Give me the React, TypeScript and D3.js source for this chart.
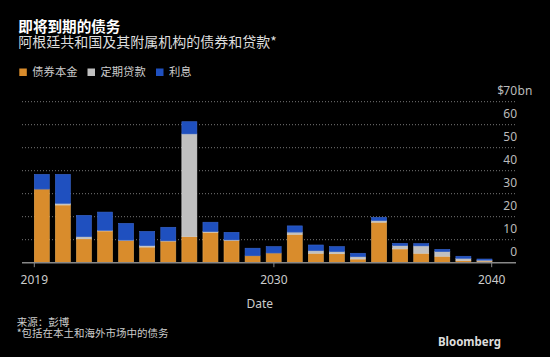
import React from "react";
import * as d3 from "d3";

const years = d3.range(2019, 2041);
const principal = [32.0, 25.1, 10.4, 13.8, 9.7, 6.8, 9.4, 11.3, 13.2, 9.7, 3.0, 4.2, 12.3, 4.1, 3.9, 1.6, 17.6, 6.0, 4.1, 2.8, 0.9, 0.7];
const loans = [0, 0.7, 0.9, 0.2, 0.1, 0.6, 0.1, 44.7, 0.3, 0.2, 0, 0, 1.0, 1.1, 0.9, 1.0, 0.7, 1.4, 3.2, 2.0, 1.0, 0.4];
const interest = [6.4, 12.6, 9.3, 8.0, 7.3, 6.2, 5.9, 5.3, 4.1, 3.3, 3.3, 2.8, 2.7, 2.5, 2.2, 1.5, 1.4, 1.0, 1.0, 1.0, 0.9, 0.5];
const seriesNames = ["债券本金", "定期贷款", "利息"];
const yTicks = [0, 10, 20, 30, 40, 50, 60, 70];
const xTicks = [2019, 2030, 2040];

const colors = ["#D98C2C", "#C0C0C0", "#1F50BF"];
const strokes = ["#E8A850", "#D8D8D8", "#3A66CC"];

const cjk = "'Noto Sans CJK SC', 'Noto Sans', sans-serif";
const latin = "'Noto Sans', 'Liberation Sans', sans-serif";

export default function App() {
  const W = 550, H = 357;
  const y = d3.scaleLinear().domain([0, 70]).range([262.7, 101.7]);
  const step = 21.08;
  const x0 = 34.3;
  const xb = d3.scaleBand<number>().domain(years).range([x0, x0 + years.length * step - 6.08]).paddingInner(0.288).paddingOuter(0);
  const xt = d3.scaleLinear().domain([2019, 2040]).range([34.3, 491.7]);

  const rows = years.map((yr, i) => ({ year: yr, p: principal[i], l: loans[i], n: interest[i] }));
  const stack = d3.stack<any>().keys(["p", "l", "n"])(rows);

  const gridX0 = 22, gridX1 = 516;
  const labelX = 517;

  return (
    <svg width={W} height={H} style={{ position: "absolute", left: 0, top: 0, background: "#000" }}>
      <rect x={0} y={0} width={W} height={H} fill="#000" />
      <text x={18.3} y={32} fill="#fff" fontFamily={cjk} fontWeight={700} fontSize={14.6}>即将到期的债务</text>
      <text x={18.3} y={47} fill="#ddd" fontFamily={cjk} fontSize={14}>阿根廷共和国及其附属机构的债券和贷款*</text>

      {seriesNames.map((s, i) => {
        const lx = [19.3, 87.5, 156][i];
        return (
          <g key={s}>
            <rect x={lx} y={68.5} width={7.5} height={7.5} fill={colors[i]} />
            <text x={lx + 13} y={76.3} fill="#ccc" fontFamily={cjk} fontSize={11.3}>{s}</text>
          </g>
        );
      })}

      {yTicks.filter(t => t > 0).map(t => (
        <line key={t} x1={gridX0} x2={gridX1} y1={y(t)} y2={y(t)} stroke="#777" strokeWidth={1} strokeDasharray="1,2" />
      ))}

      {yTicks.map(t => (
        t === 70 ? (
          <g key={t}>
            <text x={labelX} y={y(t) - 6.7} fill="#bbb" fontFamily={latin} fontSize={12} textAnchor="end">{t}</text>
            <text x={labelX - 13} y={y(t) - 6.7} fill="#bbb" fontFamily={latin} fontSize={12} textAnchor="end">$</text>
            <text x={labelX + 0.5} y={y(t) - 6.7} fill="#bbb" fontFamily={latin} fontSize={12}>bn</text>
          </g>
        ) : (
          <text key={t} x={labelX} y={y(t) - 6.7} fill="#bbb" fontFamily={latin} fontSize={12} textAnchor="end">{t}</text>
        )
      ))}

      {stack.map((layer, si) => (
        <g key={si}>
          {layer.map((d: any) => {
            const h = y(d[0]) - y(d[1]);
            if (h <= 0) return null;
            return (
              <rect key={d.data.year} x={xb(d.data.year)} y={y(d[1])} width={xb.bandwidth()} height={h}
                fill={colors[si]} stroke={strokes[si]} strokeWidth={0.6} />
            );
          })}
        </g>
      ))}

      <line x1={gridX0} x2={gridX1} y1={y(0)} y2={y(0)} stroke="#888" strokeWidth={1.5} />
      {xTicks.map(t => (
        <g key={t}>
          <line x1={xt(t)} x2={xt(t)} y1={y(0)} y2={y(0) + 4.5} stroke="#888" strokeWidth={1} />
          <text x={xt(t)} y={283.5} fill="#ccc" fontFamily={latin} fontSize={12} textAnchor="middle">{t}</text>
        </g>
      ))}

      <text x={259.7} y={308} fill="#ccc" fontFamily={latin} fontSize={12} textAnchor="middle">Date</text>
      <text x={16.7} y={326} fill="#ccc" fontFamily={cjk} fontSize={10.5}>来源：彭博</text>
      <text x={16.7} y={337} fill="#ccc" fontFamily={cjk} fontSize={10.5}>*包括在本土和海外市场中的债务</text>
      <text x={501} y={346} fill="#ddd" fontFamily={latin} fontWeight={700} fontSize={11.5} textAnchor="end">Bloomberg</text>
    </svg>
  );
}
